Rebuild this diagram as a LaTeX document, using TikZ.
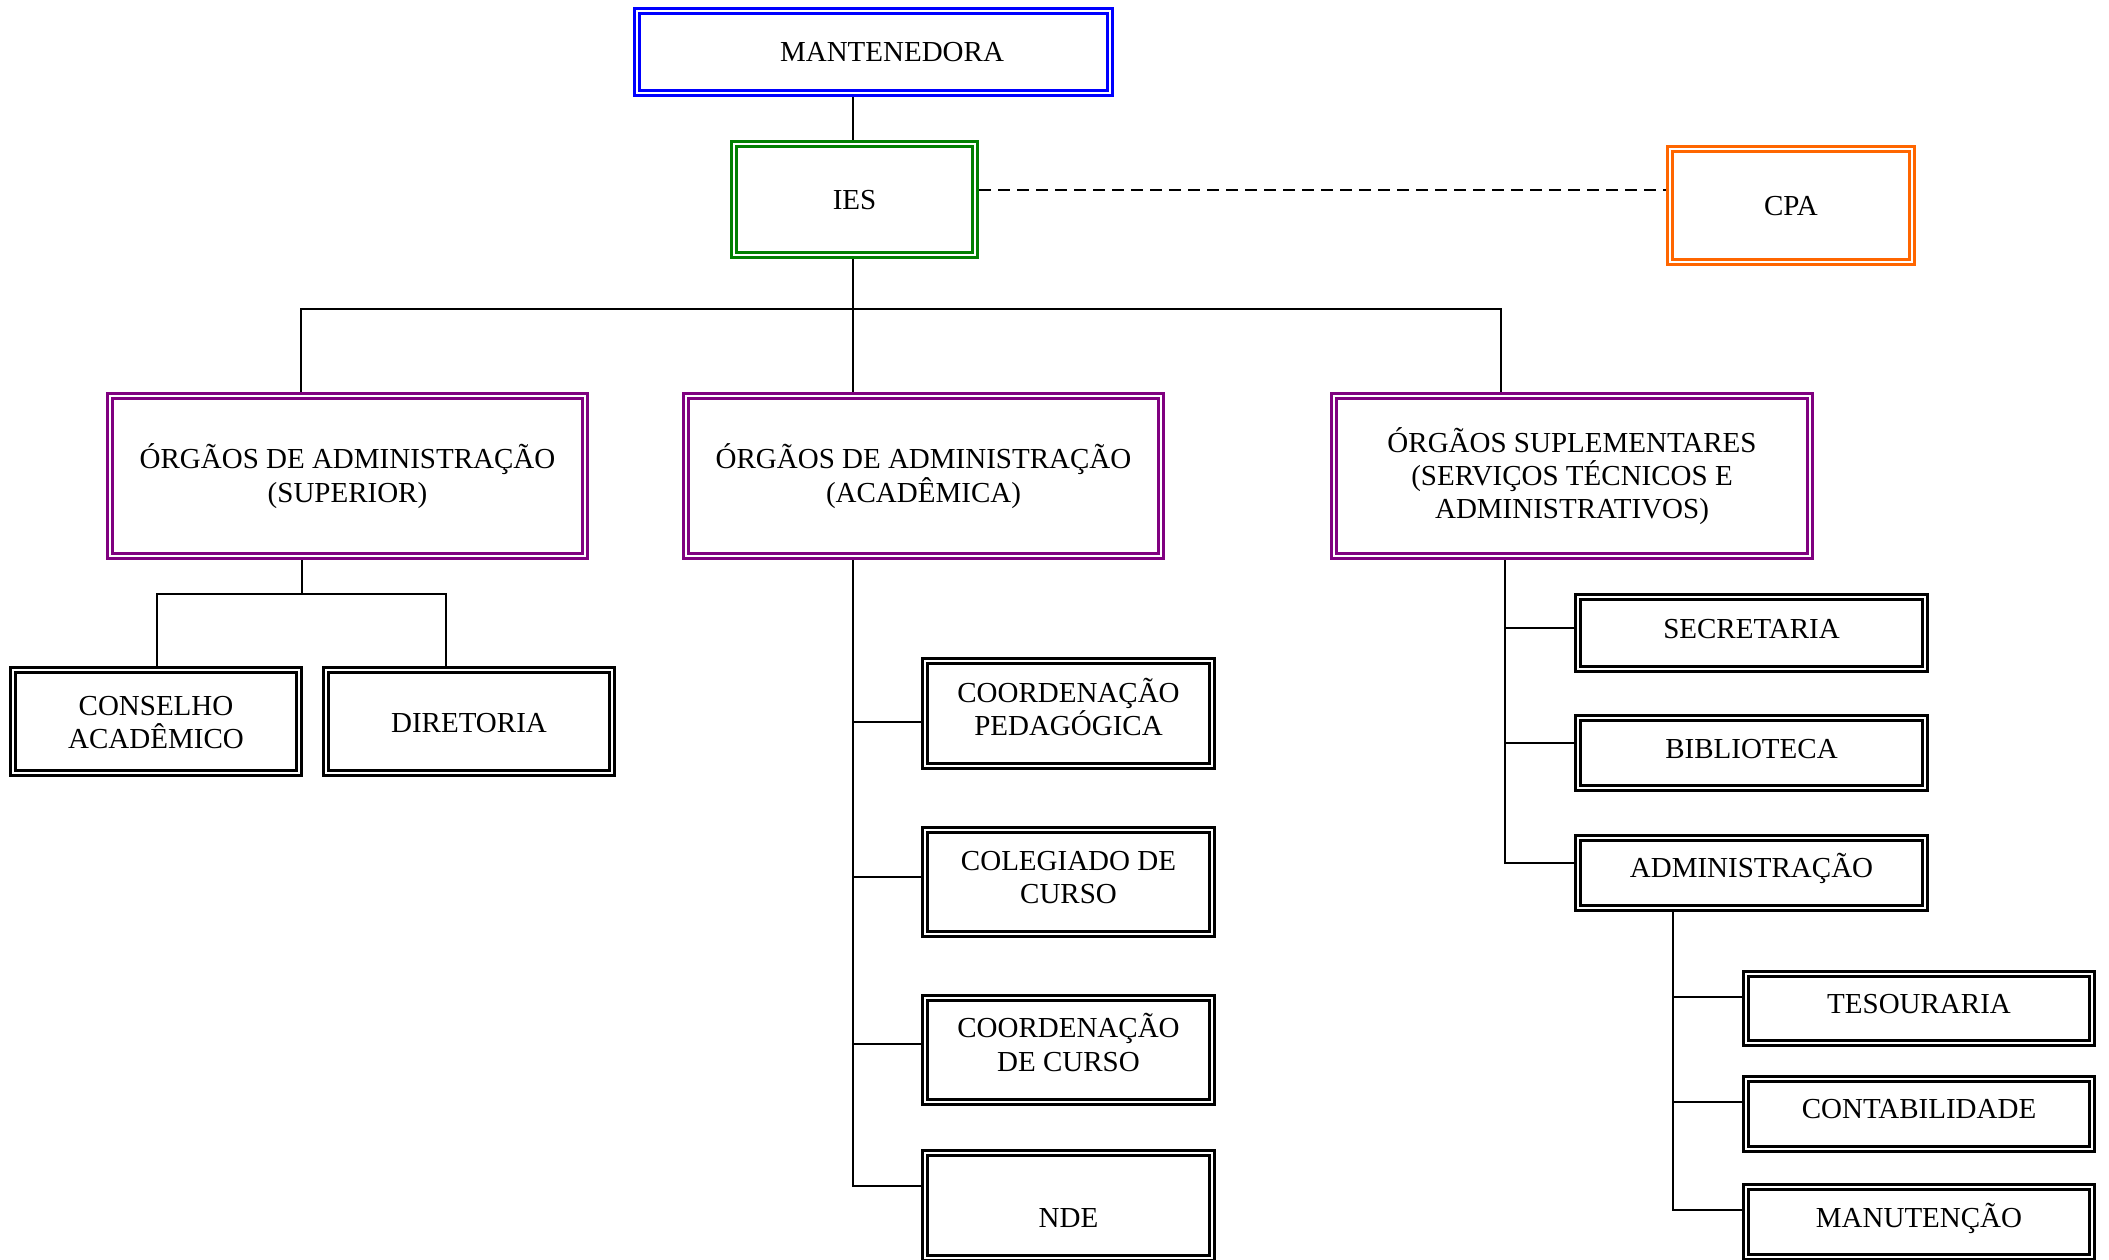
\documentclass[tikz,border=0pt]{standalone}
\usepackage{fontspec}
\setmainfont{Liberation Serif}
\newcommand\TL[1]{\rule[-7.05pt]{0pt}{33.3pt}#1}
\definecolor{cblue}{RGB}{0,0,255}
\definecolor{cgreen}{RGB}{0,128,0}
\definecolor{corange}{RGB}{255,102,0}
\definecolor{cpurple}{RGB}{128,0,128}
\begin{document}
\begin{tikzpicture}[x=1pt,y=-1pt,
  box/.style={draw=#1, double, line width=2.8pt, double distance=2.2pt, inner sep=0pt, outer sep=3.9pt},
  box/.default=black,
  txt/.style={font=\fontsize{29pt}{33.3pt}\selectfont, align=center, inner sep=0pt, text=black},
  wire/.style={line width=1.5pt},
  dsh/.style={line width=1.5pt, dash pattern=on 12pt off 7pt}]
\useasboundingbox (0,0) rectangle (2109,1259);
% top level
\node[box=cblue, minimum width=473.2pt, minimum height=82.2pt,
  label={[txt, xshift=18.5pt]center:{\TL{MANTENEDORA}}}] (mant) at (873.5,52) {};
\node[box=cgreen, minimum width=241.2pt, minimum height=111.2pt,
  label={[txt]center:{\TL{IES}}}] (ies) at (854.5,199.5) {};
\node[box=corange, minimum width=242.2pt, minimum height=113.2pt,
  label={[txt]center:{\TL{CPA}}}] (cpa) at (1791,205.5) {};
% second level
\node[box=cpurple, minimum width=475.2pt, minimum height=160.2pt,
  label={[txt]center:{\TL{ÓRGÃOS DE ADMINISTRAÇÃO}\\\TL{(SUPERIOR)}}}] (sup) at (347.5,476) {};
\node[box=cpurple, minimum width=475.2pt, minimum height=160.2pt,
  label={[txt]center:{\TL{ÓRGÃOS DE ADMINISTRAÇÃO}\\\TL{(ACADÊMICA)}}}] (acad) at (923.5,476) {};
\node[box=cpurple, minimum width=476.2pt, minimum height=160.2pt,
  label={[txt]center:{\TL{ÓRGÃOS SUPLEMENTARES}\\\TL{(SERVIÇOS TÉCNICOS E}\\\TL{ADMINISTRATIVOS)}}}] (supl) at (1572,476) {};
% superior children
\node[box, minimum width=286.2pt, minimum height=103.2pt,
  label={[txt, yshift=-1pt]center:{\TL{CONSELHO}\\\TL{ACADÊMICO}}}] (cons) at (156,721.5) {};
\node[box, minimum width=286.2pt, minimum height=103.2pt,
  label={[txt, yshift=-1.5pt]center:{\TL{DIRETORIA}}}] (dir) at (469,721.5) {};
% academica children
\node[box, minimum width=287.2pt, minimum height=105.2pt,
  label={[txt, yshift=4pt]center:{\TL{COORDENAÇÃO}\\\TL{PEDAGÓGICA}}}] (ped) at (1068.5,713.5) {};
\node[box, minimum width=287.2pt, minimum height=104.2pt,
  label={[txt, yshift=4.5pt]center:{\TL{COLEGIADO DE}\\\TL{CURSO}}}] (col) at (1068.5,882) {};
\node[box, minimum width=287.2pt, minimum height=104.2pt,
  label={[txt, yshift=5pt]center:{\TL{COORDENAÇÃO}\\\TL{DE CURSO}}}] (cdc) at (1068.5,1050) {};
\node[box, minimum width=287.2pt, minimum height=105.2pt,
  label={[txt, yshift=-12pt]center:{\TL{NDE}}}] (nde) at (1068.5,1205.5) {};
% suplementares children
\node[box, minimum width=347.2pt, minimum height=72.2pt,
  label={[txt, yshift=4pt]center:{\TL{SECRETARIA}}}] (sec) at (1751.5,633) {};
\node[box, minimum width=347.2pt, minimum height=70.2pt,
  label={[txt, yshift=4pt]center:{\TL{BIBLIOTECA}}}] (bib) at (1751.5,753) {};
\node[box, minimum width=347.2pt, minimum height=70.2pt,
  label={[txt, yshift=5pt]center:{\TL{ADMINISTRAÇÃO}}}] (adm) at (1751.5,873) {};
% administracao children
\node[box, minimum width=346.2pt, minimum height=69.2pt,
  label={[txt, yshift=4.5pt]center:{\TL{TESOURARIA}}}] (tes) at (1919,1008.5) {};
\node[box, minimum width=346.2pt, minimum height=70.2pt,
  label={[txt, yshift=5pt]center:{\TL{CONTABILIDADE}}}] (con) at (1919,1114) {};
\node[box, minimum width=346.2pt, minimum height=70.2pt,
  label={[txt, yshift=4.5pt]center:{\TL{MANUTENÇÃO}}}] (man) at (1919,1222) {};
% junction coordinates
\coordinate (tl) at (301,309);
\coordinate (tr) at (1501,309);
\coordinate (sj) at (302,594);
\coordinate (sl) at (157,594);
\coordinate (sr) at (446,594);
\coordinate (a1) at (853,722);
\coordinate (a2) at (853,877);
\coordinate (a3) at (853,1044);
\coordinate (a4) at (853,1186);
\coordinate (s1) at (1505,628);
\coordinate (s2) at (1505,743);
\coordinate (s3) at (1505,863);
\coordinate (d1) at (1673,997);
\coordinate (d2) at (1673,1102);
\coordinate (d3) at (1673,1210);
% connectors
\draw[wire] (a1 |- mant.south) -- (a1 |- ies.north);
\draw[wire] (a1 |- ies.south) -- (a1 |- acad.north);
\draw[wire] (tl |- sup.north) -- (tl) -- (tr) -- (tr |- supl.north);
\draw[dsh] ([yshift=9.5pt]ies.east) -- ([yshift=9.5pt]ies.east -| cpa.west);
\draw[wire] (sj |- sup.south) -- (sj);
\draw[wire] (sl |- cons.north) -- (sl) -- (sr) -- (sr |- dir.north);
\draw[wire] (a4 |- acad.south) -- (a4) -- (a4 -| nde.west);
\draw[wire] (a1) -- (a1 -| ped.west);
\draw[wire] (a2) -- (a2 -| col.west);
\draw[wire] (a3) -- (a3 -| cdc.west);
\draw[wire] (s3 |- supl.south) -- (s3) -- (s3 -| adm.west);
\draw[wire] (s1) -- (s1 -| sec.west);
\draw[wire] (s2) -- (s2 -| bib.west);
\draw[wire] (d3 |- adm.south) -- (d3) -- (d3 -| man.west);
\draw[wire] (d1) -- (d1 -| tes.west);
\draw[wire] (d2) -- (d2 -| con.west);
\end{tikzpicture}
\end{document}
